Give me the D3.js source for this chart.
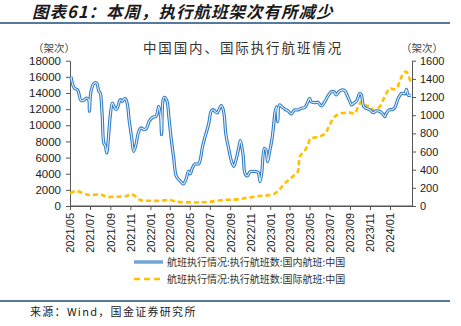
<!DOCTYPE html>
<html><head><meta charset="utf-8">
<script src="https://cdn.jsdelivr.net/npm/d3@7"></script>
<style>
body{margin:0;background:#fff;}
svg{display:block;}
</style></head>
<body>
<svg id="c" width="461" height="326"></svg>
<script>
// ---- data ----
const tickLabels = ["2021/05","2021/07","2021/09","2021/11","2022/01","2022/03","2022/05","2022/07","2022/09","2022/11","2023/01","2023/03","2023/05","2023/07","2023/09","2023/11","2024/01"];
const leftTicks = [0,2000,4000,6000,8000,10000,12000,14000,16000,18000];
const rightTicks = [0,200,400,600,800,1000,1200,1400,1600];
const seriesNames = ["航班执行情况:执行航班数:国内航班:中国","航班执行情况:执行航班数:国际航班:中国"];

const domDates = ["2021-05-04","2021-05-14","2021-05-24","2021-06-04","2021-06-14","2021-06-21","2021-06-27","2021-06-29","2021-07-04","2021-07-14","2021-07-21","2021-07-28","2021-08-01","2021-08-07","2021-08-12","2021-08-17","2021-08-21","2021-08-26","2021-09-01","2021-09-07","2021-09-12","2021-09-19","2021-09-24","2021-10-01","2021-10-07","2021-10-11","2021-10-17","2021-10-23","2021-10-28","2021-11-05","2021-11-11","2021-11-18","2021-11-25","2021-12-03","2021-12-13","2021-12-21","2021-12-28","2022-01-08","2022-01-18","2022-01-23","2022-01-26","2022-02-01","2022-02-04","2022-02-08","2022-02-12","2022-02-20","2022-02-26","2022-03-05","2022-03-13","2022-03-21","2022-04-01","2022-04-11","2022-04-19","2022-04-27","2022-05-02","2022-05-09","2022-05-17","2022-05-28","2022-06-02","2022-06-09","2022-06-17","2022-06-27","2022-07-05","2022-07-10","2022-07-17","2022-07-23","2022-07-31","2022-08-05","2022-08-12","2022-08-19","2022-08-27","2022-09-05","2022-09-12","2022-09-19","2022-09-27","2022-10-02","2022-10-07","2022-10-11","2022-10-16","2022-10-23","2022-11-01","2022-11-11","2022-11-21","2022-11-26","2022-12-01","2022-12-06","2022-12-14","2022-12-19","2022-12-24","2022-12-29","2023-01-06","2023-01-11","2023-01-16","2023-01-21","2023-01-24","2023-01-29","2023-02-05","2023-02-15","2023-02-24","2023-03-06","2023-03-16","2023-03-26","2023-04-06","2023-04-16","2023-04-26","2023-05-01","2023-05-06","2023-05-16","2023-05-26","2023-06-06","2023-06-16","2023-06-26","2023-07-06","2023-07-16","2023-07-21","2023-07-29","2023-08-06","2023-08-16","2023-08-23","2023-09-01","2023-09-06","2023-09-11","2023-09-21","2023-10-01","2023-10-06","2023-10-13","2023-10-21","2023-11-01","2023-11-11","2023-11-21","2023-12-01","2023-12-09","2023-12-16","2023-12-21","2023-12-29","2024-01-09","2024-01-16","2024-01-26","2024-02-06","2024-02-15","2024-02-20","2024-02-25","2024-03-04"];
const domValues = [16000,14600,14400,13050,13170,13380,13170,11730,14200,15240,15240,14200,14000,11300,7800,7400,6570,8430,11300,12760,12350,11930,12350,13170,12970,13170,13300,12550,10700,8430,6770,7600,9050,9670,9460,9670,10490,10990,11110,11730,12350,11110,8840,12970,13470,13050,11110,8430,5950,3680,3140,2730,3260,4300,3970,4710,5200,5200,5740,7400,8640,10070,11730,11930,11730,11520,12140,12430,11730,8840,7190,5540,4920,5740,7190,8100,7190,6110,4050,3720,4250,4300,4250,4100,3010,4050,7150,6940,5490,6500,8180,9830,11690,12300,10450,12520,12300,11980,11800,11400,11900,11900,12100,12200,12920,13340,12900,12800,12850,12390,12900,13630,14160,14100,13750,14150,14370,14300,13750,12920,12520,12700,13000,13960,13750,12300,12100,11900,11560,11800,11700,11480,11070,11500,11900,11950,12200,13340,13960,13900,14460,13750,13700];

const intDates = ["2021-05-01","2021-05-21","2021-06-10","2021-07-01","2021-08-01","2021-08-21","2021-09-21","2021-10-21","2021-11-03","2021-11-15","2021-12-01","2022-01-01","2022-02-01","2022-03-01","2022-03-21","2022-05-01","2022-06-01","2022-07-01","2022-08-10","2022-09-21","2022-10-26","2022-12-01","2023-01-01","2023-01-16","2023-02-01","2023-02-20","2023-03-10","2023-03-26","2023-04-01","2023-04-16","2023-04-26","2023-05-04","2023-05-21","2023-06-16","2023-07-01","2023-07-16","2023-08-06","2023-09-01","2023-09-16","2023-09-26","2023-10-06","2023-10-16","2023-11-01","2023-11-11","2023-11-21","2023-12-01","2023-12-11","2023-12-21","2024-01-01","2024-01-11","2024-01-21","2024-02-01","2024-02-11","2024-02-20","2024-02-25","2024-03-04"];
const intValues = [140,165,140,121,129,102,102,110,132,110,66,58,58,66,47,40,40,47,66,73,92,110,121,140,195,268,323,378,543,609,672,745,756,793,892,983,1020,1028,1020,1094,1149,1112,1094,1057,1065,1094,1167,1241,1296,1285,1296,1388,1461,1479,1443,1369];

// ---- drawing ----
const svg = d3.select("#c");
const parse = d3.timeParse("%Y-%m-%d");
const parseTick = d3.timeParse("%Y/%m");
const X0 = 70, X1 = 412, Y0 = 206, Y1 = 60.7;

const x = d3.scaleTime().domain([parse("2021-05-01"), parse("2024-03-08")]).range([X0, X1]);
const yL = d3.scaleLinear().domain([0,18000]).range([Y0, Y1]);
const yR = d3.scaleLinear().domain([0,1600]).range([Y0, Y1]);

const cjk = "'Noto Sans CJK SC', sans-serif";
const lat = "'Liberation Sans', Arial, sans-serif";

// header title
svg.append("text").attr("x",32).attr("y",18).attr("font-family",cjk).attr("font-size",16.5)
  .attr("font-weight","bold").attr("font-style","italic").attr("letter-spacing",1).attr("fill","#1a1a1a")
  .text("图表61：本周，执行航班架次有所减少");
svg.append("line").attr("x1",0).attr("x2",450).attr("y1",23).attr("y2",23).attr("stroke","#1F4E79").attr("stroke-width",1.5);

// chart title
svg.append("text").attr("x",243).attr("y",53).attr("text-anchor","middle").attr("font-family",cjk)
  .attr("font-size",13.5).attr("letter-spacing",1.9).attr("fill","#333").text("中国国内、国际执行航班情况");
svg.append("text").attr("x",54).attr("y",52).attr("text-anchor","middle").attr("font-family",cjk)
  .attr("font-size",10.5).attr("fill","#444").text("（架次）");
svg.append("text").attr("x",422).attr("y",52).attr("text-anchor","middle").attr("font-family",cjk)
  .attr("font-size",10.5).attr("fill","#444").text("（架次）");

// axes
const axL = svg.append("g").attr("transform",`translate(${X0},0)`)
  .call(d3.axisLeft(yL).tickValues(leftTicks).tickSize(4).tickSizeOuter(0).tickFormat(d3.format("d")));
axL.selectAll("text").attr("font-family",lat).attr("font-size",11.5).attr("fill","#222").attr("dx",-2);
const axR = svg.append("g").attr("transform",`translate(${X1},0)`)
  .call(d3.axisRight(yR).tickValues(rightTicks).tickSize(4).tickSizeOuter(0).tickFormat(d3.format("d")));
axR.selectAll("text").attr("font-family",lat).attr("font-size",11).attr("fill","#222").attr("dx",1);
const tickDates = tickLabels.map(parseTick);
const axB = svg.append("g").attr("transform",`translate(0,${Y0})`)
  .call(d3.axisBottom(x).tickValues(tickDates).tickSize(4).tickSizeOuter(0).tickFormat(d3.timeFormat("%Y/%m")));
axB.selectAll("text").attr("font-family",lat).attr("font-size",11).attr("fill","#222")
  .attr("text-anchor","end").attr("transform","rotate(-90)").attr("x",-7).attr("y",0).attr("dy","0.35em");
svg.selectAll(".domain, .tick line").attr("stroke","#555");
svg.append("line").attr("x1",X0).attr("x2",X1).attr("y1",Y0).attr("y2",Y0).attr("stroke","#555");

// lines
const curve = d3.curveCatmullRom.alpha(0.5);
const dom = domDates.map((d,i)=>({d:parse(d), v:domValues[i]}));
const intl = intDates.map((d,i)=>({d:parse(d), v:intValues[i]}));
const lineL = d3.line().x(p=>x(p.d)).y(p=>yL(p.v)).curve(curve);
const lineR = d3.line().x(p=>x(p.d)).y(p=>yR(p.v)).curve(curve);

svg.append("path").attr("d",lineR(intl)).attr("fill","none").attr("stroke","#FFC000")
  .attr("stroke-width",2.6).attr("stroke-dasharray","5,3");
svg.append("path").attr("d",lineL(dom)).attr("fill","none").attr("stroke","#2E7BC4").attr("stroke-width",3.2);
svg.append("path").attr("d",lineL(dom)).attr("fill","none").attr("stroke","#e6f0fa").attr("stroke-width",1.1);

// legend
const lg = svg.append("g");
lg.append("line").attr("x1",134).attr("x2",163).attr("y1",262).attr("y2",262).attr("stroke","#2E7BC4").attr("stroke-width",3);
lg.append("line").attr("x1",134).attr("x2",163).attr("y1",262).attr("y2",262).attr("stroke","#9DC3E6").attr("stroke-width",1.2);
lg.append("line").attr("x1",134).attr("x2",163).attr("y1",279).attr("y2",279).attr("stroke","#FFC000").attr("stroke-width",2.6).attr("stroke-dasharray","6,4");
lg.append("text").attr("x",167).attr("y",266).attr("font-family",cjk).attr("font-size",10).attr("fill","#333").text(seriesNames[0]);
lg.append("text").attr("x",167).attr("y",283).attr("font-family",cjk).attr("font-size",10).attr("fill","#333").text(seriesNames[1]);

// footer
svg.append("line").attr("x1",0).attr("x2",450).attr("y1",301).attr("y2",301).attr("stroke","#1F4E79").attr("stroke-width",1.5);
svg.append("text").attr("x",30).attr("y",316).attr("font-family",cjk).attr("font-size",11).attr("letter-spacing",1.3).attr("fill","#222").text("来源：Wind，国金证券研究所");
</script>
</body></html>
